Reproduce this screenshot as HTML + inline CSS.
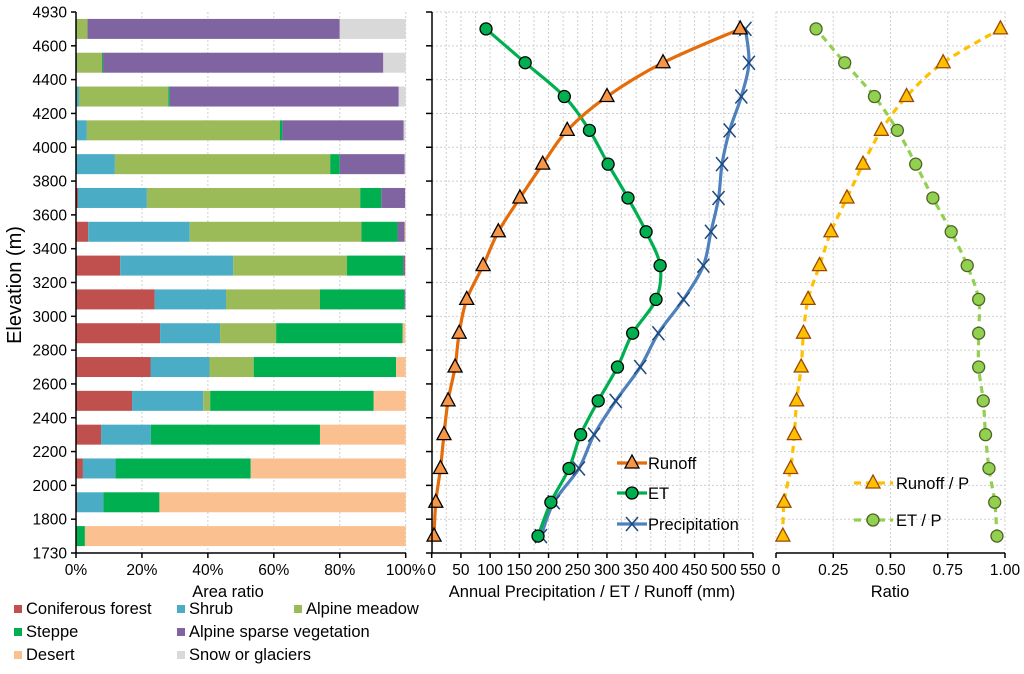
<!DOCTYPE html>
<html><head><meta charset="utf-8">
<style>
html,body{margin:0;padding:0;background:#fff;}
svg{display:block;font-family:"Liberation Sans",Arial,sans-serif;}
</style></head>
<body>
<svg id="chart" width="1024" height="674" viewBox="0 0 1024 674">
<g id="grid"></g><g id="marks"></g><g id="axes"></g><g id="legend"></g>
</svg>
<script>
const bandLabels = ["1730","1800","2000","2200","2400","2600","2800","3000","3200","3400","3600","3800","4000","4200","4400","4600","4930"];
const landTypes = ["Coniferous forest","Shrub","Alpine meadow","Steppe","Alpine sparse vegetation","Desert","Snow or glaciers"];
const landColors = ["#C0504D","#4BACC6","#9BBB59","#00B050","#8064A2","#FAC090","#D9D9D9"];
// area ratio (%) per band, bottom to top; order follows landTypes
const conifer = [0,0.3,2.1,7.6,17,22.6,25.5,23.9,13.4,3.7,0.6,0,0,0,0,0];
const shrub   = [0,8,9.9,15.1,21.6,17.9,18.2,21.6,34.3,30.8,20.9,11.8,3.3,0.9,0.3,0];
const meadow  = [0,0,0,0,2.1,13.4,17,28.5,34.5,52.1,64.7,65.3,58.5,27.1,7.6,3.5];
const steppe  = [2.7,17,41,51.3,49.6,43.2,38.4,25.6,17,10.9,6.4,2.9,0.8,0.4,0.3,0];
const sparse  = [0,0,0,0,0,0,0,0.3,0.6,2.2,7.2,19.7,36.8,69.5,85,76.5];
const desert  = [97.3,74.7,47,26,9.7,2.9,0.8,0,0.2,0.3,0,0,0,0,0,0];
const snow    = [0,0,0,0,0,0,0,0,0,0,0.2,0.3,0.5,2.1,6.8,20];
// annual values (mm)
const runoff = [4,7,15,21,28,40,47,60,88,114,151,190,232,300,396,528];
const et     = [182,204,235,255,285,318,344,384,391,367,336,302,270,227,160,93];
const precip = [187,209,252,278,315,357,388,431,465,478,491,497,510,530,543,537];
// ratios
const runoffRatio = [0.03,0.035,0.064,0.08,0.09,0.11,0.12,0.14,0.19,0.24,0.31,0.38,0.46,0.57,0.73,0.98];
const etRatio     = [0.965,0.955,0.93,0.915,0.905,0.885,0.885,0.885,0.835,0.765,0.685,0.61,0.53,0.43,0.30,0.175];
const pctTicks = [0,20,40,60,80,100];
const mmTicks = [0,50,100,150,200,250,300,350,400,450,500,550];
const ratioTicks = [0,0.25,0.5,0.75,1.0];
const ratioTickLabels = ["0","0.25","0.50","0.75","1.00"];

const NS="http://www.w3.org/2000/svg";
function mk(parent,tag,attrs,text){const e=document.createElementNS(NS,tag);for(const k in attrs)e.setAttribute(k,attrs[k]);if(text!==undefined)e.textContent=text;document.getElementById(parent).appendChild(e);return e;}
const TOP=12,BOT=553,NB=16,BH=(BOT-TOP)/NB;
const yBand=i=>BOT-(i+0.5)*BH;
const yEdge=i=>BOT-i*BH;
const xPct=v=>76+v*(405.7-76)/100;
const xMm=v=>431.7+v*(753-431.7)/550;
const xRat=v=>776+v*(1005-776);
const FS=15.5, FT=16.5;

function vgrid(x){const l=mk('grid','line',{x1:x,x2:x,y1:TOP,y2:BOT,stroke:'#cfcfcf','stroke-dasharray':'2,2','stroke-width':1});
}
function hgrid(x1,x2,y){const l=mk('grid','line',{x1:x1,x2:x2,y1:y,y2:y,stroke:'#cfcfcf','stroke-dasharray':'2,2','stroke-width':1});
}
pctTicks.forEach(t=>{if(t>0)vgrid(xPct(t));});
for(let v=25;v<=550;v+=25)vgrid(xMm(v));
for(let i=1;i<=NB;i++)hgrid(432,753,yEdge(i));
ratioTicks.forEach(t=>vgrid(xRat(t)));
for(let i=1;i<=NB;i++)hgrid(776,1005,yEdge(i));

const series=[conifer,shrub,meadow,steppe,sparse,desert,snow];
for(let i=0;i<NB;i++){let acc=0;
  series.forEach((s,k)=>{const v=s[i];if(v<=0)return;
    const r=mk('marks','rect',{x:xPct(acc),y:yBand(i)-10,width:Math.max(0,xPct(acc+v)-xPct(acc)),height:20,fill:landColors[k]});
    
    
    acc+=v;});}

function smooth(pts){let d='M'+pts[0][0]+','+pts[0][1];
  for(let i=0;i<pts.length-1;i++){const p0=pts[i-1]||pts[i],p1=pts[i],p2=pts[i+1],p3=pts[i+2]||p2;
    const c1=[p1[0]+(p2[0]-p0[0])/6,p1[1]+(p2[1]-p0[1])/6],c2=[p2[0]-(p3[0]-p1[0])/6,p2[1]-(p3[1]-p1[1])/6];
    d+=' C'+c1.join(',')+' '+c2.join(',')+' '+p2.join(',');}return d;}
function tri(x,y,fill,stroke,name){const t=mk('marks','polygon',{points:`${x},${y-8} ${x-7},${y+5} ${x+7},${y+5}`,fill:fill,stroke:stroke,'stroke-width':1.3});
  }
function circ(x,y,fill,stroke,name){const c=mk('marks','circle',{cx:x,cy:y,r:6,fill:fill,stroke:stroke,'stroke-width':1.3});
  }
function cross(x,y,name){const p=mk('marks','path',{d:`M${x-6},${y-7}L${x+6},${y+7}M${x-6},${y+7}L${x+6},${y-7}`,stroke:'#1F497D','stroke-width':1.5,fill:'none'});
  }
function line(vals,xf,color,dash,name){const pts=vals.map((v,i)=>[xf(v),yBand(i)]);
  const a={d:smooth(pts),stroke:color,'stroke-width':3.2,fill:'none'};if(dash)a['stroke-dasharray']=dash;
  const p=mk('marks','path',a);return pts;}

line(precip,xMm,'#4F81BD',null,'precipitation-line').forEach(p=>cross(p[0],p[1],'precipitation-point'));
line(et,xMm,'#00B050',null,'et-line').forEach(p=>circ(p[0],p[1],'#00B050','#000','et-point'));
line(runoff,xMm,'#E46C0A',null,'runoff-line').forEach(p=>tri(p[0],p[1],'#F79646','#000','runoff-point'));
line(etRatio,xRat,'#92D050','7,5','et-ratio-line').forEach(p=>circ(p[0],p[1],'#92D050','#4F6228','et-ratio-point'));
line(runoffRatio,xRat,'#FFC000','7,5','runoff-ratio-line').forEach(p=>tri(p[0],p[1],'#FFC000','#984807','runoff-ratio-point'));

function ax(tag,attrs,name,text){const e=mk('axes',tag,attrs,text);return e;}
const AX={stroke:'#000','stroke-width':1.5};
ax('line',Object.assign({x1:76,x2:76,y1:TOP,y2:BOT},AX),'y-axis-line');
ax('line',Object.assign({x1:76,x2:406,y1:BOT,y2:BOT},AX),'x-axis-area');
ax('line',Object.assign({x1:432,x2:432,y1:TOP,y2:BOT},AX),'y-axis-line-2');
ax('line',Object.assign({x1:432,x2:753,y1:BOT,y2:BOT},AX),'x-axis-mm');
ax('line',Object.assign({x1:776,x2:1005,y1:BOT,y2:BOT},AX),'x-axis-ratio');
bandLabels.forEach((l,i)=>{const y=yEdge(i);
  ax('line',Object.assign({x1:71,x2:76,y1:y,y2:y},AX),'y-tick');
  ax('line',Object.assign({x1:426,x2:432,y1:y,y2:y},AX),'y-tick-2');
  ax('text',{x:67,y:y+5.5,'text-anchor':'end','font-size':FS},'y-tick-label',l);});
pctTicks.forEach(t=>{const x=xPct(t);ax('line',Object.assign({x1:x,x2:x,y1:BOT,y2:BOT+5},AX),'x-tick');
  ax('text',{x:x,y:575,'text-anchor':'middle','font-size':FS},'x-tick-label',t+'%');});
mmTicks.forEach(t=>{const x=xMm(t);ax('line',Object.assign({x1:x,x2:x,y1:BOT,y2:BOT+5},AX),'x-tick');
  ax('text',{x:x,y:575,'text-anchor':'middle','font-size':FS},'x-tick-label',String(t));});
ratioTicks.forEach((t,i)=>{const x=xRat(t);ax('line',Object.assign({x1:x,x2:x,y1:BOT,y2:BOT+5},AX),'x-tick');
  ax('text',{x:x,y:575,'text-anchor':'middle','font-size':FS},'x-tick-label',ratioTickLabels[i]);});
ax('text',{x:228,y:597,'text-anchor':'middle','font-size':FT},'x-axis-title-area','Area ratio');
ax('text',{x:592,y:597,'text-anchor':'middle','font-size':FT},'x-axis-title-mm','Annual Precipitation / ET / Runoff (mm)');
ax('text',{x:890,y:597,'text-anchor':'middle','font-size':FT},'x-axis-title-ratio','Ratio');
ax('text',{x:0,y:0,'text-anchor':'middle','font-size':20,transform:'translate(21,285) rotate(-90)'},'y-axis-title','Elevation (m)');

function lg(tag,attrs,name,text){const e=mk('legend',tag,attrs,text);return e;}
const legPos=[[14,614],[177,614],[294,614],[14,637],[177,637],[14,660],[177,660]];
landTypes.forEach((t,k)=>{const [x,y]=legPos[k];
  lg('rect',{x:x,y:y-9,width:8,height:8,fill:landColors[k]},'legend-swatch');
  lg('text',{x:x+12,y:y,'font-size':FT},'legend-entry',t);});
function lline(x1,x2,y,color,dash){const a={x1:x1,x2:x2,y1:y,y2:y,stroke:color,'stroke-width':3.2};if(dash)a['stroke-dasharray']=dash;lg('line',a,'legend-line');}
lline(617,647,463,'#E46C0A');
lg('polygon',{points:'632,455 625,468 639,468',fill:'#F79646',stroke:'#000','stroke-width':1.3},'legend-marker');
lg('text',{x:648,y:469,'font-size':FT},'legend-entry','Runoff');
lline(617,647,493,'#00B050');
lg('circle',{cx:632,cy:493,r:6,fill:'#00B050',stroke:'#000','stroke-width':1.3},'legend-marker');
lg('text',{x:648,y:499,'font-size':FT},'legend-entry','ET');
lline(617,647,524,'#4F81BD');
lg('path',{d:'M626,517L638,531M626,531L638,517',stroke:'#1F497D','stroke-width':1.5},'legend-marker');
lg('text',{x:648,y:530,'font-size':FT},'legend-entry','Precipitation');
lline(854,893,483,'#FFC000','7,5');
lg('polygon',{points:'873,475 866,488 880,488',fill:'#FFC000',stroke:'#984807','stroke-width':1.3},'legend-marker');
lg('text',{x:896,y:489,'font-size':FT},'legend-entry','Runoff / P');
lline(854,893,520,'#92D050','7,5');
lg('circle',{cx:873,cy:520,r:6,fill:'#92D050',stroke:'#4F6228','stroke-width':1.3},'legend-marker');
lg('text',{x:896,y:526,'font-size':FT},'legend-entry','ET / P');
</script>
</body></html>
